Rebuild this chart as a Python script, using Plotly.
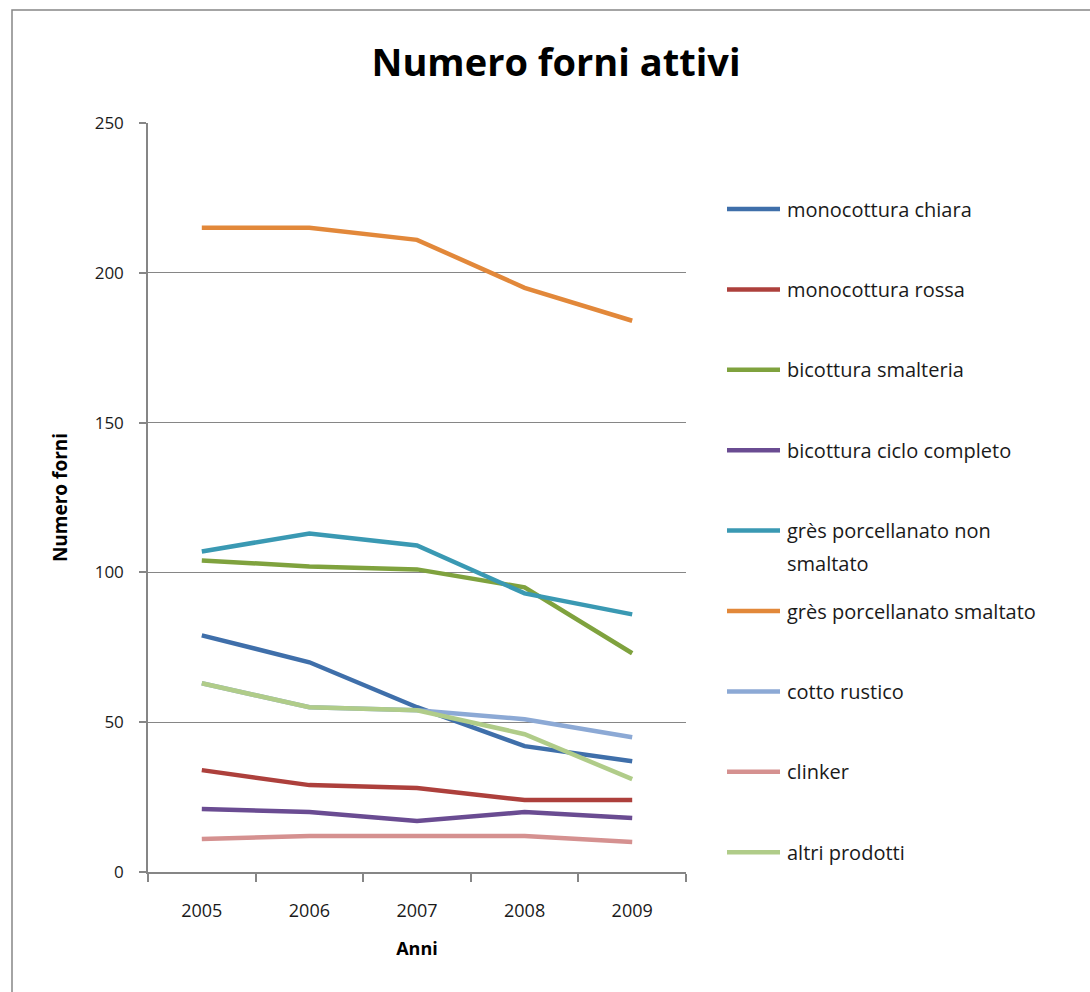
import plotly.graph_objects as go

# Anni e serie: numero di forni attivi per tipologia di prodotto
anni = ["2005", "2006", "2007", "2008", "2009"]

monocottura_chiara = [79, 70, 55, 42, 37]
monocottura_rossa = [34, 29, 28, 24, 24]
bicottura_smalteria = [104, 102, 101, 95, 73]
bicottura_ciclo_completo = [21, 20, 17, 20, 18]
gres_non_smaltato = [107, 113, 109, 93, 86]
gres_smaltato = [215, 215, 211, 195, 184]
cotto_rustico = [63, 55, 54, 51, 45]
clinker = [11, 12, 12, 12, 10]
altri_prodotti = [63, 55, 54, 46, 31]

nomi = [
    "monocottura chiara",
    "monocottura rossa",
    "bicottura smalteria",
    "bicottura ciclo completo",
    "grès porcellanato non<br>smaltato",
    "grès porcellanato smaltato",
    "cotto rustico",
    "clinker",
    "altri prodotti",
]
serie = [
    monocottura_chiara,
    monocottura_rossa,
    bicottura_smalteria,
    bicottura_ciclo_completo,
    gres_non_smaltato,
    gres_smaltato,
    cotto_rustico,
    clinker,
    altri_prodotti,
]
colori = [
    "#3F6FAA", "#AD403C", "#7FA23E", "#6A4C92", "#3A99B3",
    "#E2883A", "#8CA9D5", "#D59190", "#B0CC89",
]

FONT = "Open Sans"
GRIGIO = "#868686"

W, H = 1090, 992
L, R, T, B = 148, 404, 123, 120
plot_w = W - L - R
plot_h = H - T - B


def px_x(x):
    return (x - L) / plot_w


def px_y(y):
    return (H - B - y) / plot_h


fig = go.Figure()
for nome, valori, colore in zip(nomi, serie, colori):
    fig.add_trace(go.Scatter(
        x=anni, y=valori, mode="lines", name=nome.replace("<br>", " "),
        line=dict(color=colore, width=4.5), showlegend=False,
        hoverinfo="x+y+name",
    ))

# legenda disegnata a lato del grafico
shapes = []
annotations = []
for i, (nome, colore) in enumerate(zip(nomi, colori)):
    yp = 209 + i * 80.4
    shapes.append(dict(
        type="line", xref="paper", yref="paper",
        x0=px_x(727), x1=px_x(780), y0=px_y(yp), y1=px_y(yp),
        line=dict(color=colore, width=4.5),
    ))
    for k, riga in enumerate(nome.split("<br>")):
        annotations.append(dict(
            xref="paper", yref="paper", x=px_x(785), y=px_y(yp + k * 33),
            xanchor="left", yanchor="middle",
            text=riga, showarrow=False, align="left",
            font=dict(family=FONT, size=20, color="#1a1a1a"),
        ))

# cornice dell'area del grafico
shapes.append(dict(
    type="rect", xref="paper", yref="paper",
    x0=px_x(12), x1=px_x(1200), y0=px_y(1100), y1=px_y(10),
    line=dict(color=GRIGIO, width=1.5), fillcolor="rgba(0,0,0,0)",
    layer="below",
))

fig.update_layout(
    width=W, height=H,
    margin=dict(l=L, r=R, t=T, b=B),
    paper_bgcolor="white", plot_bgcolor="white",
    title=dict(
        text="<b>Numero forni attivi</b>", xref="container", x=556 / W,
        xanchor="center", yref="container", y=1 - 63 / H, yanchor="middle",
        font=dict(family=FONT, size=38, color="black"),
    ),
    xaxis=dict(
        type="category", range=[-0.5, 4.5], tickson="boundaries",
        ticks="outside", ticklen=8, tickcolor=GRIGIO, tickwidth=1.5,
        ticklabelstandoff=22,
        showline=True, linecolor=GRIGIO, linewidth=1.5, showgrid=False,
        tickfont=dict(family=FONT, size=18, color="#1a1a1a"),
        title=dict(text="<b>Anni</b>", standoff=21,
                   font=dict(family=FONT, size=18, color="black")),
    ),
    yaxis=dict(
        range=[0, 250], dtick=50, ticks="outside", ticklen=7,
        tickcolor=GRIGIO, tickwidth=1.5, ticklabelstandoff=12,
        showline=True, linecolor=GRIGIO, linewidth=1.5,
        showgrid=True, gridcolor=GRIGIO, gridwidth=1, zeroline=False,
        tickfont=dict(family=FONT, size=17, color="#1a1a1a"),
        title=dict(text="<b>Numero forni</b>", standoff=22,
                   font=dict(family=FONT, size=19, color="black")),
    ),
    shapes=shapes,
    annotations=annotations,
)

fig.write_html("out.html")
